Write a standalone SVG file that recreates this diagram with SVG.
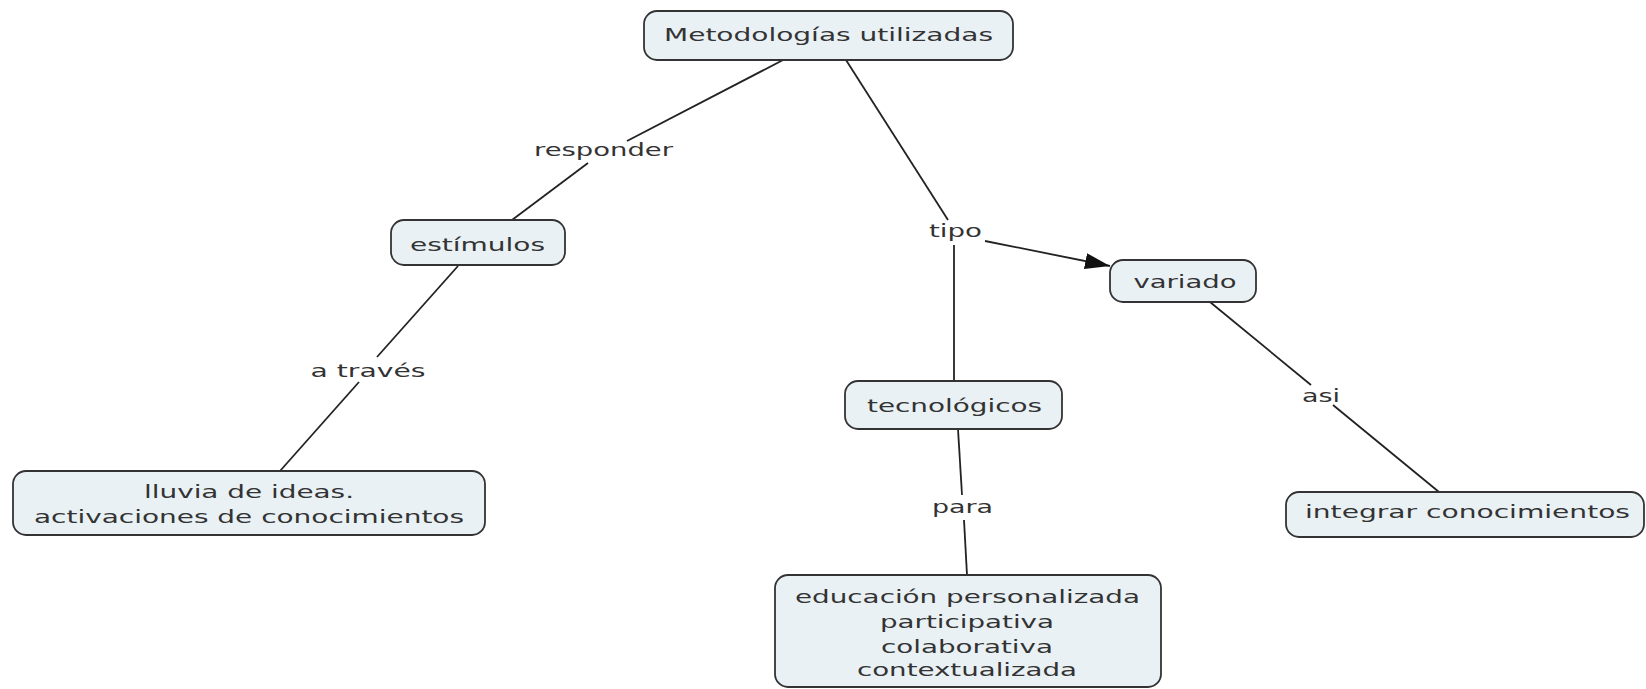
<svg xmlns="http://www.w3.org/2000/svg" width="1646" height="689" viewBox="0 0 1646 689">
<style>
.box{fill:#e9f1f5;stroke:#333;stroke-width:1.8}
.t{font-family:"DejaVu Sans","Liberation Sans",sans-serif;font-size:18px;fill:#333;text-anchor:middle}
.c{stroke:#222;stroke-width:1.8;fill:none}
</style>
<defs>
<marker id="arr" markerUnits="userSpaceOnUse" markerWidth="26" markerHeight="18" refX="25" refY="8" orient="auto">
<path d="M0,0 L25,8 L0,16 z" fill="#111"/>
</marker>
</defs>
<rect width="1646" height="689" fill="#fff"/>
<g id="connectors">
<line class="c" x1="783" y1="60" x2="627" y2="141"/>
<line class="c" x1="588" y1="163" x2="512" y2="220"/>
<line class="c" x1="458" y1="266" x2="377" y2="357"/>
<line class="c" x1="359" y1="382" x2="280" y2="471"/>
<line class="c" x1="846" y1="60" x2="948" y2="220"/>
<line class="c" x1="985" y1="241" x2="1110" y2="266" marker-end="url(#arr)"/>
<line class="c" x1="954" y1="245" x2="954" y2="381"/>
<line class="c" x1="958" y1="429" x2="962" y2="495"/>
<line class="c" x1="964" y1="520" x2="967" y2="575"/>
<line class="c" x1="1210" y1="302" x2="1311" y2="385"/>
<line class="c" x1="1333" y1="405" x2="1439" y2="492"/>
<text class="t" x="603.5" y="156" textLength="139" lengthAdjust="spacingAndGlyphs">responder</text>
<text class="t" x="368" y="377" textLength="115" lengthAdjust="spacingAndGlyphs">a través</text>
<text class="t" x="955.5" y="237" textLength="53" lengthAdjust="spacingAndGlyphs">tipo</text>
<text class="t" x="962.5" y="513" textLength="61" lengthAdjust="spacingAndGlyphs">para</text>
<text class="t" x="1321" y="402" textLength="38" lengthAdjust="spacingAndGlyphs">asi</text>
</g>
<g id="n-metodologias">
<rect class="box" x="644" y="11" width="369" height="49" rx="13"/>
<text class="t" x="828.5" y="41" textLength="329" lengthAdjust="spacingAndGlyphs">Metodologías utilizadas</text>
</g>
<g id="n-estimulos">
<rect class="box" x="391" y="220" width="174" height="45" rx="13"/>
<text class="t" x="477.5" y="251" textLength="135" lengthAdjust="spacingAndGlyphs">estímulos</text>
</g>
<g id="n-lluvia">
<rect class="box" x="13" y="471" width="472" height="64" rx="13"/>
<text class="t" x="249" y="498" textLength="210" lengthAdjust="spacingAndGlyphs">lluvia de ideas.</text>
<text class="t" x="249" y="523" textLength="430" lengthAdjust="spacingAndGlyphs">activaciones de conocimientos</text>
</g>
<g id="n-variado">
<rect class="box" x="1110" y="260" width="146" height="42" rx="13"/>
<text class="t" x="1185" y="288" textLength="103" lengthAdjust="spacingAndGlyphs">variado</text>
</g>
<g id="n-tecnologicos">
<rect class="box" x="845" y="381" width="217" height="48" rx="13"/>
<text class="t" x="954.5" y="412" textLength="175" lengthAdjust="spacingAndGlyphs">tecnológicos</text>
</g>
<g id="n-educacion">
<rect class="box" x="775" y="575" width="386" height="112" rx="13"/>
<text class="t" x="967.5" y="603" textLength="345" lengthAdjust="spacingAndGlyphs">educación personalizada</text>
<text class="t" x="967" y="628" textLength="174" lengthAdjust="spacingAndGlyphs">participativa</text>
<text class="t" x="967" y="653" textLength="172" lengthAdjust="spacingAndGlyphs">colaborativa</text>
<text class="t" x="967" y="676" textLength="220" lengthAdjust="spacingAndGlyphs">contextualizada</text>
</g>
<g id="n-integrar">
<rect class="box" x="1286" y="492" width="358" height="45" rx="13"/>
<text class="t" x="1467.5" y="518" textLength="325" lengthAdjust="spacingAndGlyphs">integrar conocimientos</text>
</g>
</svg>
